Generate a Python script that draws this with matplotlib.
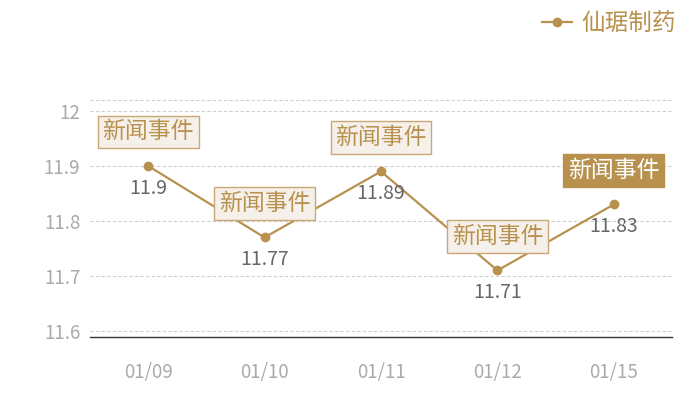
import numpy as np
import matplotlib
matplotlib.use("Agg")
import matplotlib.pyplot as plt

plt.rcParams['font.family'] = ['Noto Sans CJK SC', 'DejaVu Sans']

# data
dates = ['01/09', '01/10', '01/11', '01/12', '01/15']
prices = [11.9, 11.77, 11.89, 11.71, 11.83]
series_name = '仙琚制药'
event_label = '新闻事件'
yticks = [11.6, 11.7, 11.8, 11.9, 12.0]
ytick_labels = ['11.6', '11.7', '11.8', '11.9', '12']

gold = '#b8914e'
grid_c = '#cfcfcf'

fig = plt.figure(figsize=(7, 4), dpi=100)
ax = fig.add_axes([90/700, 63/400, 582/700, 237/400])

x = np.arange(len(dates))
ax.plot(x, prices, color=gold, lw=1.6, marker='o', ms=6, label=series_name, zorder=3)

ax.set_xlim(-0.5, len(dates) - 0.5)
ax.set_ylim(11.589, 12.02)
ax.set_yticks(yticks)
ax.set_yticklabels(ytick_labels)
ax.set_xticks(x)
ax.set_xticklabels(dates)

ax.grid(axis='y', color=grid_c, ls=(0, (3, 2)), lw=0.8)
ax.axhline(12.02, color=grid_c, ls=(0, (3, 2)), lw=0.8, clip_on=False)
for s in ['top', 'left', 'right']:
    ax.spines[s].set_visible(False)
ax.spines['bottom'].set_color('#333333')
ax.spines['bottom'].set_linewidth(1.0)
ax.tick_params(axis='both', length=0, colors='#aaaaaa', labelsize=13.5)
ax.tick_params(axis='y', pad=7)
ax.tick_params(axis='x', pad=18)

# value labels and event boxes
for i, v in enumerate(prices):
    ax.annotate(f'{v:g}', (i, v), xytext=(0, -16), textcoords='offset points',
                ha='center', va='center', fontsize=14, color='#666666', zorder=4)
    last = i == len(prices) - 1
    ax.annotate(event_label, (i, v), xytext=(0, 24.5), textcoords='offset points',
                ha='center', va='center', fontsize=16.5,
                color='white' if last else gold, zorder=5,
                bbox=dict(boxstyle='square,pad=0.2',
                          fc=gold if last else '#f5f0e9',
                          ec=gold if last else '#c9a877', lw=1))

leg = ax.legend(loc='upper right', bbox_to_anchor=(688/700, 1.0), bbox_transform=fig.transFigure,
                frameon=False, fontsize=17, handlelength=1.3, handletextpad=0.4,
                borderaxespad=0.1)
for t in leg.get_texts():
    t.set_color(gold)

fig.savefig('out.png', dpi=100)
